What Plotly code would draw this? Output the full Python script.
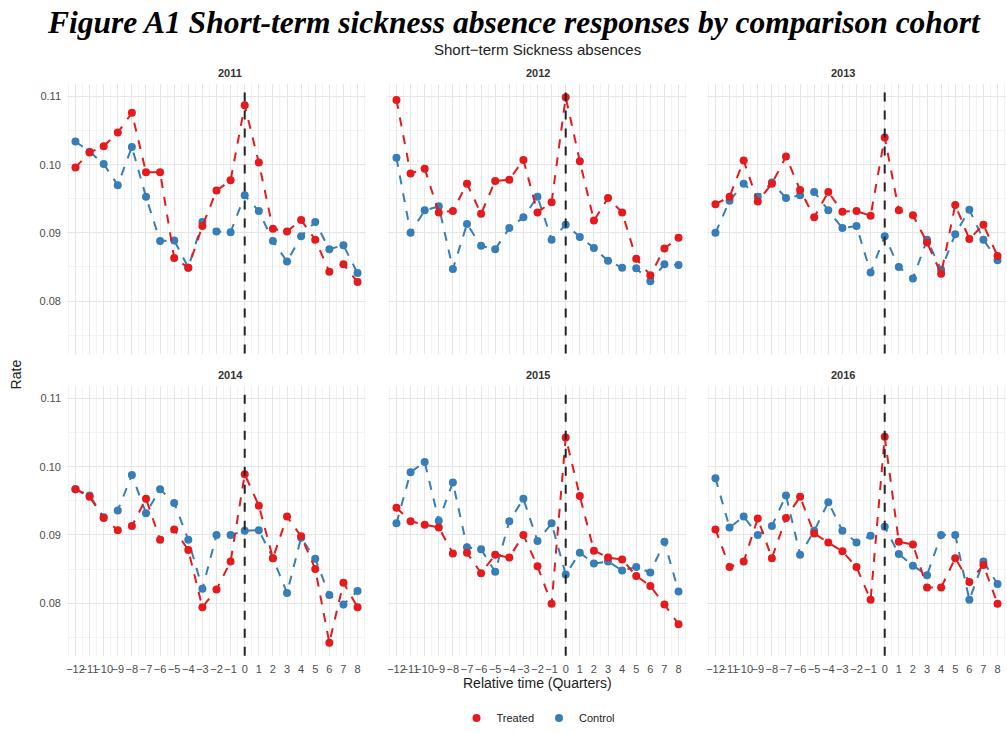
import plotly.graph_objects as go

rel_time = list(range(-12, 9))
tick_text = [("\u2212" + str(-t)) if t < 0 else str(t) for t in rel_time]
years = ["2011", "2012", "2013", "2014", "2015", "2016"]

treated_2011 = [0.0996, 0.1018, 0.1027, 0.1047, 0.1076, 0.0989, 0.0989, 0.0863, 0.0849, 0.0910, 0.0962, 0.0977,
                0.1087, 0.1003, 0.0906, 0.0902, 0.0919, 0.0890, 0.0843, 0.0854, 0.0828]
control_2011 = [0.1034, 0.1019, 0.1001, 0.0970, 0.1026, 0.0953, 0.0888, 0.0889, 0.0849, 0.0916, 0.0902, 0.0901,
                0.0955, 0.0932, 0.0888, 0.0858, 0.0895, 0.0916, 0.0876, 0.0882, 0.0841]
treated_2012 = [0.1095, 0.0987, 0.0994, 0.0930, 0.0932, 0.0972, 0.0928, 0.0976, 0.0978, 0.1007, 0.0930, 0.0945,
                0.1099, 0.1005, 0.0918, 0.0951, 0.0930, 0.0862, 0.0838, 0.0877, 0.0893]
control_2012 = [0.1010, 0.0900, 0.0933, 0.0939, 0.0847, 0.0913, 0.0881, 0.0876, 0.0907, 0.0923, 0.0953, 0.0890,
                0.0912, 0.0894, 0.0878, 0.0859, 0.0849, 0.0848, 0.0829, 0.0854, 0.0853]
treated_2013 = [0.0942, 0.0953, 0.1006, 0.0946, 0.0972, 0.1012, 0.0963, 0.0923, 0.0960, 0.0931, 0.0932, 0.0925,
                0.1040, 0.0933, 0.0926, 0.0886, 0.0840, 0.0941, 0.0891, 0.0912, 0.0866]
control_2013 = [0.0900, 0.0947, 0.0972, 0.0953, 0.0974, 0.0951, 0.0955, 0.0960, 0.0933, 0.0907, 0.0910, 0.0842,
                0.0895, 0.0850, 0.0833, 0.0890, 0.0846, 0.0898, 0.0934, 0.0890, 0.0860]
treated_2014 = [0.0967, 0.0956, 0.0925, 0.0907, 0.0913, 0.0953, 0.0893, 0.0908, 0.0878, 0.0794, 0.0820, 0.0861,
                0.0989, 0.0943, 0.0866, 0.0927, 0.0898, 0.0850, 0.0742, 0.0830, 0.0794]
control_2014 = [0.0967, 0.0958, 0.0926, 0.0936, 0.0988, 0.0932, 0.0967, 0.0947, 0.0893, 0.0821, 0.0900, 0.0900,
                0.0906, 0.0907, 0.0866, 0.0815, 0.0896, 0.0865, 0.0812, 0.0798, 0.0818]
treated_2015 = [0.0940, 0.0920, 0.0915, 0.0911, 0.0873, 0.0874, 0.0844, 0.0871, 0.0867, 0.0900, 0.0854, 0.0799,
                0.1043, 0.0957, 0.0877, 0.0867, 0.0864, 0.0840, 0.0825, 0.0798, 0.0769]
control_2015 = [0.0917, 0.0992, 0.1007, 0.0921, 0.0977, 0.0882, 0.0879, 0.0846, 0.0920, 0.0953, 0.0891, 0.0917,
                0.0842, 0.0874, 0.0858, 0.0861, 0.0848, 0.0853, 0.0845, 0.0890, 0.0817]
treated_2016 = [0.0908, 0.0853, 0.0861, 0.0924, 0.0866, 0.0925, 0.0956, 0.0902, 0.0889, 0.0876, 0.0853, 0.0805,
                0.1044, 0.0890, 0.0886, 0.0823, 0.0823, 0.0866, 0.0831, 0.0856, 0.0799]
control_2016 = [0.0983, 0.0911, 0.0927, 0.0900, 0.0913, 0.0958, 0.0871, 0.0906, 0.0948, 0.0906, 0.0889, 0.0899,
                0.0912, 0.0872, 0.0855, 0.0841, 0.0900, 0.0900, 0.0805, 0.0861, 0.0828]

treated = [treated_2011, treated_2012, treated_2013, treated_2014, treated_2015, treated_2016]
control = [control_2011, control_2012, control_2013, control_2014, control_2015, control_2016]

RED = "#E41A1C"
BLUE = "#377EB8"
W, H = 1007, 733

x_dom_px = [(67, 366), (388, 687), (707, 1006)]
y_dom_px = [(85, 357), (390, 662)]
y_range = [0.0723, 0.1118]
x_range = [-12.6, 8.6]

fig = go.Figure()
layout = {}
annotations = []
shapes = []
control_traces = []
treated_traces = []

for i, yr in enumerate(years):
    row, col = divmod(i, 3)
    n = i + 1
    xa = "x" if n == 1 else f"x{n}"
    ya = "y" if n == 1 else f"y{n}"
    xd = [x_dom_px[col][0] / W, x_dom_px[col][1] / W]
    yd = [1 - y_dom_px[row][1] / H, 1 - y_dom_px[row][0] / H]
    layout["xaxis" if n == 1 else f"xaxis{n}"] = dict(
        domain=xd, anchor=ya, range=x_range, tickvals=rel_time, ticktext=tick_text,
        showticklabels=(row == 1), tickangle=0, ticklabelstandoff=5,
        tickfont=dict(size=11, color="#4d4d4d", family="Liberation Sans"),
        showgrid=True, gridcolor="#e6e6e6", gridwidth=1, zeroline=False, showline=False, ticks="",
        minor=dict(dtick=0.5, tick0=0.5, showgrid=True, gridcolor="#f3f3f3", gridwidth=1),
        automargin=False, fixedrange=True)
    layout["yaxis" if n == 1 else f"yaxis{n}"] = dict(
        domain=yd, anchor=xa, range=y_range, tickvals=[0.08, 0.09, 0.10, 0.11],
        ticktext=["0.08", "0.09", "0.10", "0.11"], showticklabels=(col == 0), ticklabelstandoff=5,
        tickfont=dict(size=11, color="#4d4d4d", family="Liberation Sans"),
        showgrid=True, gridcolor="#e6e6e6", gridwidth=1, zeroline=False, showline=False, ticks="",
        minor=dict(dtick=0.005, tick0=0.075, showgrid=True, gridcolor="#f3f3f3", gridwidth=1),
        automargin=False, fixedrange=True)
    control_traces.append(go.Scatter(x=rel_time, y=control[i], mode="lines+markers", name="Control",
                                     line=dict(color=BLUE, width=2, dash="dash"), marker=dict(color=BLUE, size=8),
                                     xaxis=xa, yaxis=ya, showlegend=False))
    treated_traces.append(go.Scatter(x=rel_time, y=treated[i], mode="lines+markers", name="Treated",
                                     line=dict(color=RED, width=2, dash="dash"), marker=dict(color=RED, size=8),
                                     xaxis=xa, yaxis=ya, showlegend=False))
    shapes.append(dict(type="line", xref=xa, yref=f"{ya} domain", x0=0, x1=0, y0=0, y1=1,
                       line=dict(color="#222222", width=2, dash="dash"), layer="above"))
    annotations.append(dict(text=f"<b>{yr}</b>", x=(xd[0] + xd[1]) / 2, y=yd[1], xref="paper", yref="paper",
                            yanchor="bottom", yshift=3, showarrow=False,
                            font=dict(size=11, color="#333333", family="Liberation Sans")))

for t in control_traces + treated_traces:
    fig.add_trace(t)

# legend-only entries (marker symbols, as in the reference key)
fig.add_trace(go.Scatter(x=[None], y=[None], mode="markers", name="Treated",
                         marker=dict(color=RED, size=8), showlegend=True))
fig.add_trace(go.Scatter(x=[None], y=[None], mode="markers", name="Control",
                         marker=dict(color=BLUE, size=8), showlegend=True))

annotations += [
    dict(text="Figure A1 Short-term sickness absence responses by comparison cohort", x=514 / W, y=1 - 23 / H,
         xref="paper", yref="paper", showarrow=False, yanchor="middle",
         font=dict(family="Liberation Serif", size=31.5, color="#000000", weight="bold", style="italic")),
    dict(text="Short\u2212term Sickness absences", x=537 / W, y=1 - 50 / H, xref="paper", yref="paper",
         showarrow=False, yanchor="middle", font=dict(family="Liberation Sans", size=15, color="#222222")),
    dict(text="Relative time (Quarters)", x=537 / W, y=1 - 690 / H, xref="paper", yref="paper",
         showarrow=False, yanchor="middle", font=dict(family="Liberation Sans", size=14, color="#222222")),
    dict(text="Rate", x=16 / W, y=1 - 378 / H, xref="paper", yref="paper", textangle=-90,
         showarrow=False, xanchor="center", yanchor="middle",
         font=dict(family="Liberation Sans", size=14, color="#222222")),
]

fig.update_layout(**layout)
fig.update_layout(
    width=W, height=H, margin=dict(l=0, r=0, t=0, b=0),
    paper_bgcolor="white", plot_bgcolor="white",
    annotations=annotations, shapes=shapes,
    legend=dict(orientation="h", x=538 / W, y=1 - 725 / H, xanchor="center", yanchor="middle",
                font=dict(size=11, color="#222222", family="Liberation Sans"),
                itemwidth=30, tracegroupgap=0),
)
fig.write_html("out.html")
